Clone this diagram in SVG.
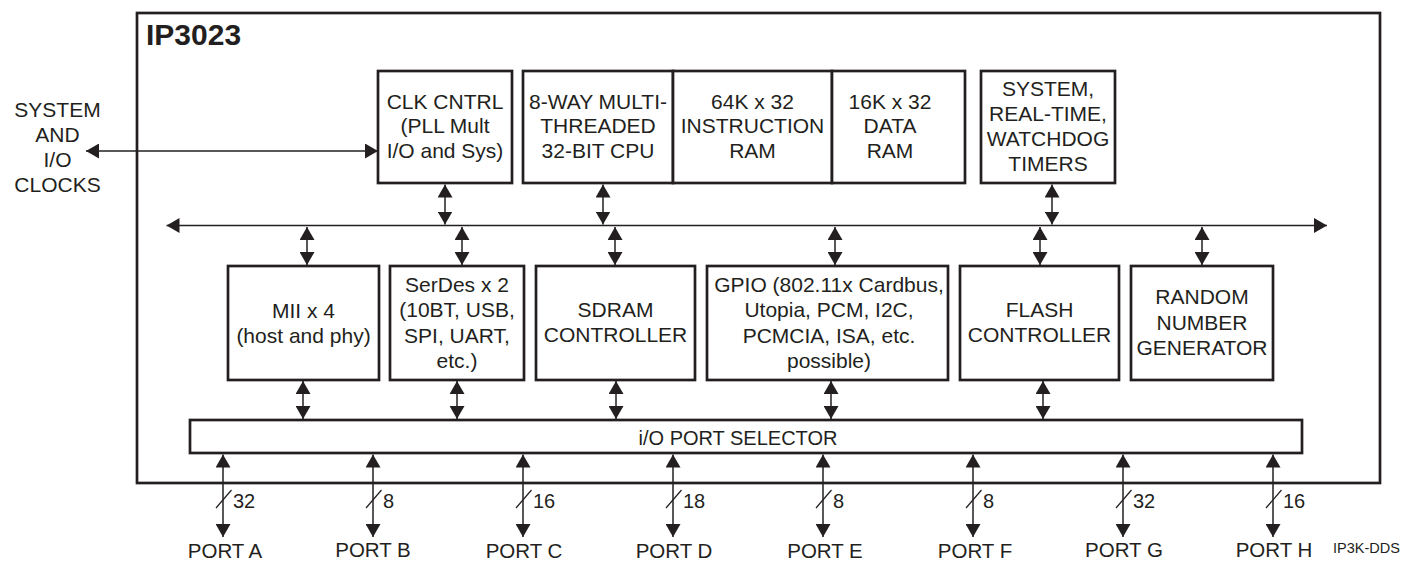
<svg xmlns="http://www.w3.org/2000/svg" width="1405" height="561" viewBox="0 0 1405 561">
<style>
text{font-family:"Liberation Sans",Arial,sans-serif;fill:#231f20}
.t{font-size:21px;text-anchor:middle}
.p{font-size:20.5px;text-anchor:middle}
.w{font-size:20px}
.box{fill:#fff;stroke:#231f20;stroke-width:2.7}
.ln{stroke:#231f20;stroke-width:1.5;fill:none;marker-start:url(#ah);marker-end:url(#ah)}
.sl{stroke:#231f20;stroke-width:1.2}
</style>
<defs>
<marker id="ah" viewBox="0 0 13 15" refX="13" refY="7.5" markerWidth="13" markerHeight="15" markerUnits="userSpaceOnUse" orient="auto-start-reverse">
<path d="M0,0 L13,7.5 L0,15 z" fill="#231f20"/>
</marker>
</defs>
<rect width="1405" height="561" fill="#fff"/>
<g id="chip">
<rect x="137" y="13" width="1243" height="470" fill="none" stroke="#231f20" stroke-width="2.7"/>
<text x="146" y="45" style="font-size:30px;font-weight:bold">IP3023</text>
</g>
<g id="ext-clocks">
<text class="t" x="57.5" y="116.5">SYSTEM</text>
<text class="t" x="57.5" y="141.8">AND</text>
<text class="t" x="57.5" y="167.1">I/O</text>
<text class="t" x="57.5" y="192.4">CLOCKS</text>
</g>
<g id="connectors">
<line class="ln" x1="86" y1="151" x2="378" y2="151"/>
<line class="ln" x1="166.5" y1="225.5" x2="1327" y2="225.5"/>
<line class="ln" x1="445" y1="184.5" x2="445" y2="224.5"/>
<line class="ln" x1="603" y1="184.5" x2="603" y2="224.5"/>
<line class="ln" x1="1052" y1="184.5" x2="1052" y2="224.5"/>
<line class="ln" x1="307" y1="227" x2="307" y2="265"/>
<line class="ln" x1="462" y1="227" x2="462" y2="265"/>
<line class="ln" x1="615" y1="227" x2="615" y2="265"/>
<line class="ln" x1="835" y1="227" x2="835" y2="265"/>
<line class="ln" x1="1040" y1="227" x2="1040" y2="265"/>
<line class="ln" x1="1202" y1="227" x2="1202" y2="265"/>
<line class="ln" x1="303" y1="381" x2="303" y2="419"/>
<line class="ln" x1="457" y1="381" x2="457" y2="419"/>
<line class="ln" x1="616" y1="381" x2="616" y2="419"/>
<line class="ln" x1="831" y1="381" x2="831" y2="419"/>
<line class="ln" x1="1043" y1="381" x2="1043" y2="419"/>
<line class="ln" x1="223" y1="454.5" x2="223" y2="537"/>
<line class="ln" x1="373" y1="454.5" x2="373" y2="537"/>
<line class="ln" x1="523" y1="454.5" x2="523" y2="537"/>
<line class="ln" x1="673" y1="454.5" x2="673" y2="537"/>
<line class="ln" x1="823" y1="454.5" x2="823" y2="537"/>
<line class="ln" x1="973" y1="454.5" x2="973" y2="537"/>
<line class="ln" x1="1123" y1="454.5" x2="1123" y2="537"/>
<line class="ln" x1="1273" y1="454.5" x2="1273" y2="537"/>
</g>
<g id="clk">
<rect class="box" x="378" y="71" width="134" height="112"/>
<text class="t" x="445" y="108.5">CLK CNTRL</text>
<text class="t" x="445" y="133.3">(PLL Mult</text>
<text class="t" x="445" y="158.1">I/O and Sys)</text>
</g>
<g id="cpu">
<rect class="box" x="523" y="71" width="150" height="112"/>
<text class="t" x="598" y="108.5">8-WAY MULTI-</text>
<text class="t" x="598" y="133.3">THREADED</text>
<text class="t" x="598" y="158.1">32-BIT CPU</text>
</g>
<g id="iram">
<rect class="box" x="673" y="71" width="159" height="112"/>
<text class="t" x="752.5" y="108.5">64K x 32</text>
<text class="t" x="752.5" y="133.3">INSTRUCTION</text>
<text class="t" x="752.5" y="158.1">RAM</text>
</g>
<g id="dram">
<rect class="box" x="832" y="71" width="133" height="112"/>
<text class="t" x="890" y="108.5">16K x 32</text>
<text class="t" x="890" y="133.3">DATA</text>
<text class="t" x="890" y="158.1">RAM</text>
</g>
<g id="timers">
<rect class="box" x="981" y="71" width="134" height="112"/>
<text class="t" x="1048" y="95.5">SYSTEM,</text>
<text class="t" x="1048" y="120.8">REAL-TIME,</text>
<text class="t" x="1048" y="146.1">WATCHDOG</text>
<text class="t" x="1048" y="171.4">TIMERS</text>
</g>
<g id="mii">
<rect class="box" x="228" y="266" width="151" height="114"/>
<text class="t" x="303.5" y="317.5">MII x 4</text>
<text class="t" x="303.5" y="342.8">(host and phy)</text>
</g>
<g id="serdes">
<rect class="box" x="390" y="266" width="134" height="114"/>
<text class="t" x="457" y="291.7">SerDes x 2</text>
<text class="t" x="457" y="317.2">(10BT, USB,</text>
<text class="t" x="457" y="342.7">SPI, UART,</text>
<text class="t" x="457" y="368.2">etc.)</text>
</g>
<g id="sdram">
<rect class="box" x="536" y="266" width="159" height="114"/>
<text class="t" x="615.5" y="316.9">SDRAM</text>
<text class="t" x="615.5" y="342.2">CONTROLLER</text>
</g>
<g id="gpio">
<rect class="box" x="707" y="266" width="241" height="114"/>
<text class="t" x="829" y="291.7">GPIO (802.11x Cardbus,</text>
<text class="t" x="829" y="317.2">Utopia, PCM, I2C,</text>
<text class="t" x="829" y="342.7">PCMCIA, ISA, etc.</text>
<text class="t" x="829" y="368.2">possible)</text>
</g>
<g id="flash">
<rect class="box" x="960" y="266" width="159" height="114"/>
<text class="t" x="1039.5" y="316.9">FLASH</text>
<text class="t" x="1039.5" y="342.2">CONTROLLER</text>
</g>
<g id="rng">
<rect class="box" x="1131" y="266" width="142" height="114"/>
<text class="t" x="1202" y="304.4">RANDOM</text>
<text class="t" x="1202" y="329.9">NUMBER</text>
<text class="t" x="1202" y="355.4">GENERATOR</text>
</g>
<g id="selector">
<rect class="box" x="190" y="420" width="1112" height="33"/>
<text x="738" y="445" style="font-size:20px;text-anchor:middle">i/O PORT SELECTOR</text>
</g>
<g id="ports">
<line class="sl" x1="216" y1="508" x2="231.5" y2="490"/><text class="w" x="233" y="508">32</text>
<line class="sl" x1="366" y1="508" x2="381.5" y2="490"/><text class="w" x="383" y="508">8</text>
<line class="sl" x1="516" y1="508" x2="531.5" y2="490"/><text class="w" x="533" y="508">16</text>
<line class="sl" x1="666" y1="508" x2="681.5" y2="490"/><text class="w" x="683" y="508">18</text>
<line class="sl" x1="816" y1="508" x2="831.5" y2="490"/><text class="w" x="833" y="508">8</text>
<line class="sl" x1="966" y1="508" x2="981.5" y2="490"/><text class="w" x="983" y="508">8</text>
<line class="sl" x1="1116" y1="508" x2="1131.5" y2="490"/><text class="w" x="1133" y="508">32</text>
<line class="sl" x1="1266" y1="508" x2="1281.5" y2="490"/><text class="w" x="1283" y="508">16</text>
<text class="p" x="225" y="558">PORT A</text>
<text class="p" x="373" y="557">PORT B</text>
<text class="p" x="524" y="558">PORT C</text>
<text class="p" x="674" y="558">PORT D</text>
<text class="p" x="825" y="558">PORT E</text>
<text class="p" x="975" y="558">PORT F</text>
<text class="p" x="1124" y="557">PORT G</text>
<text class="p" x="1274" y="557">PORT H</text>
<text x="1333" y="553" style="font-size:14.5px">IP3K-DDS</text>
</g>
</svg>
